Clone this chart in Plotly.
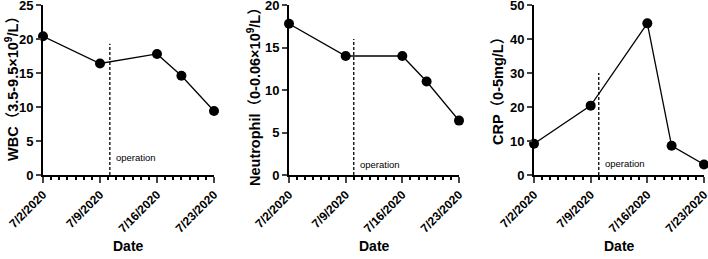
import plotly.graph_objects as go

dates = ["2020-07-02", "2020-07-09", "2020-07-16", "2020-07-19", "2020-07-23"]
wbc = [20.4, 16.4, 17.8, 14.6, 9.4]
neut = [17.8, 14.0, 14.0, 11.0, 6.4]
crp = [9.2, 20.4, 44.6, 8.6, 3.1]
series = [wbc, neut, crp]
y_max = [25, 20, 50]
y_dtick = [5, 5, 10]
y_titles = ["WBC（3.5-9.5×10<sup>9</sup>/L）",
            "Neutrophil（0-0.06×10<sup>9</sup>/L）",
            "CRP（0-5mg/L）"]
op_dates = ["2020-07-10 05:00", "2020-07-10", "2020-07-10"]
op_line_top = [19.3, 16, 30]
op_text_y = [2.6, 1.2, 3.5]
tick_vals = ["2020-07-02", "2020-07-09", "2020-07-16", "2020-07-23"]
tick_text = ["7/2/2020", "7/9/2020", "7/16/2020", "7/23/2020"]

W, H = 708, 259
x_dom_px = [(43, 214), (289, 459), (534, 704)]
y_title_x = [12, 254, 498]
y_title_y = [85, 93, 88]
ydom = [1 - 175 / H, 1 - 5 / H]

fig = go.Figure()
FONT = "Liberation Sans, Arial, Noto Sans CJK SC"

for i in range(3):
    xa = "x" if i == 0 else f"x{i+1}"
    ya = "y" if i == 0 else f"y{i+1}"
    fig.add_trace(go.Scatter(
        x=dates, y=series[i], mode="lines+markers",
        line=dict(color="black", width=1.3),
        marker=dict(color="black", size=10),
        xaxis=xa, yaxis=ya, cliponaxis=False, showlegend=False,
        hoverinfo="skip"))
    dom = [x_dom_px[i][0] / W, x_dom_px[i][1] / W]
    xkey = "xaxis" if i == 0 else f"xaxis{i+1}"
    ykey = "yaxis" if i == 0 else f"yaxis{i+1}"
    fig.layout[xkey] = dict(
        domain=dom, anchor=ya, type="date", automargin=False,
        range=["2020-07-02", "2020-07-23"], ticklabeloverflow="allow",
        tickmode="array", tickvals=tick_vals, ticktext=tick_text,
        tickangle=-45, ticks="outside", ticklen=6, tickwidth=2,
        showline=True, linecolor="black", linewidth=2,
        showgrid=False, zeroline=False,
        tickfont=dict(family=FONT, size=12, color="black", weight="bold"),
        minor=dict(dtick=86400000, tick0="2020-07-02", ticks="outside",
                   ticklen=3, tickwidth=1.5, tickcolor="black", showgrid=False),
    )
    fig.layout[ykey] = dict(
        domain=ydom, anchor=xa, range=[0, y_max[i]], dtick=y_dtick[i],
        automargin=False, ticklabeloverflow="allow",
        ticks="outside", ticklen=5, tickwidth=2,
        showline=True, linecolor="black", linewidth=2,
        showgrid=False, zeroline=False,
        tickfont=dict(family=FONT, size=13, color="black", weight="bold"),
    )
    fig.add_shape(type="line", xref=xa, yref=ya,
                  x0=op_dates[i], x1=op_dates[i], y0=0, y1=op_line_top[i],
                  line=dict(color="black", width=1.3, dash="3px,2px"))
    fig.add_annotation(xref=xa, yref=ya, x=op_dates[i], y=op_text_y[i],
                       text="operation", showarrow=False, xanchor="left",
                       yanchor="middle",
                       xshift=4, font=dict(family=FONT, size=9.5, color="black"))
    fig.add_annotation(xref="paper", yref="paper",
                       x=(x_dom_px[i][0] + x_dom_px[i][1]) / 2 / W, y=1 - 246 / H,
                       xanchor="center", yanchor="middle",
                       text="Date", showarrow=False,
                       font=dict(family=FONT, size=14, color="black", weight="bold"))
    fig.add_annotation(xref="paper", yref="paper",
                       x=y_title_x[i] / W, y=1 - y_title_y[i] / H, textangle=-90,
                       xanchor="center", yanchor="middle",
                       text=y_titles[i], showarrow=False,
                       font=dict(family=FONT, size=14.5, color="black", weight="bold"))

fig.update_layout(width=W, height=H,
                  margin=dict(l=0, r=0, t=0, b=0, autoexpand=False),
                  plot_bgcolor="white", paper_bgcolor="white", hovermode=False)
fig.write_html("out.html", config={"displayModeBar": False},
               post_script="document.body.style.margin='0';")
